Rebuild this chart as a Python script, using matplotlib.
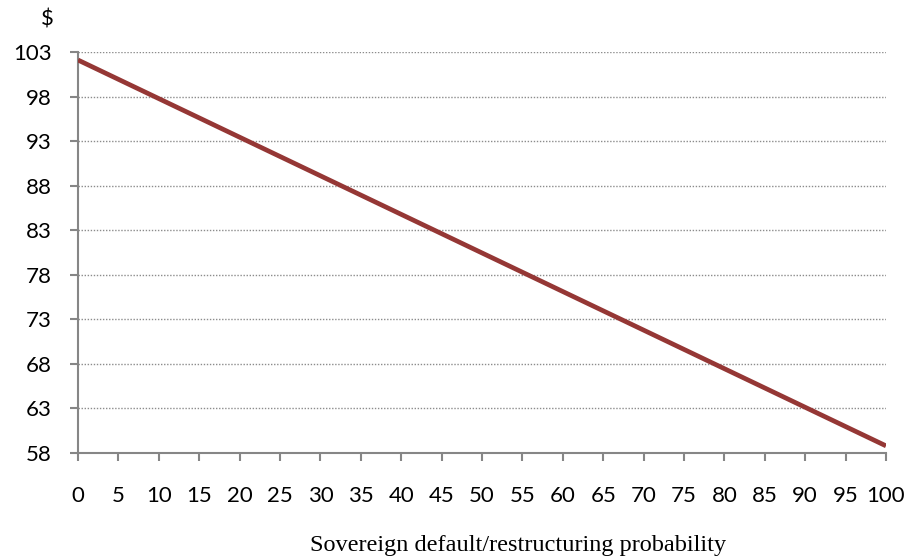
import matplotlib
matplotlib.use("Agg")
import matplotlib.pyplot as plt

# Bond price versus sovereign default/restructuring probability
probability = [0, 100]
price = [102.1, 58.8]

x_ticks = list(range(0, 101, 5))
y_ticks = [58, 63, 68, 73, 78, 83, 88, 93, 98, 103]

fig = plt.figure(figsize=(9.11, 5.59), dpi=100)
ax = fig.add_axes([78 / 911, 1 - 453 / 559, (886 - 78) / 911, (453 - 52) / 559])

ax.plot(probability, price, color="#953735", linewidth=3.4, solid_capstyle="butt", zorder=3)

ax.set_xlim(0, 100)
ax.set_ylim(58, 103)
ax.set_xticks(x_ticks)
ax.set_yticks(y_ticks)

for yv in y_ticks[1:]:
    ax.axhline(yv, color="#8c8c8c", linestyle=(0, (1, 1.2)), linewidth=1.0, zorder=1)

for side in ("top", "right"):
    ax.spines[side].set_visible(False)
for side in ("left", "bottom"):
    ax.spines[side].set_color("#868686")
    ax.spines[side].set_linewidth(1.5)

tick_font = {"family": ["Lato", "DejaVu Sans"], "size": 16}
ax.tick_params(axis="x", direction="out", length=6, width=1.5, color="#868686", pad=18)
ax.tick_params(axis="y", direction="out", length=6, width=1.5, color="#868686", pad=13)
ax.set_xticklabels([str(v) for v in x_ticks], **tick_font)
ax.set_yticklabels([str(v) for v in y_ticks], **tick_font)

fig.text(47 / 911, 1 - 20 / 559, "$", ha="center", va="center", **tick_font)
fig.text(0.5 * (311 + 725) / 911, 1 - 545 / 559, "Sovereign default/restructuring probability",
         ha="center", va="center", family=["Liberation Serif"], size=17.5)

fig.savefig("out.png", dpi=100)
